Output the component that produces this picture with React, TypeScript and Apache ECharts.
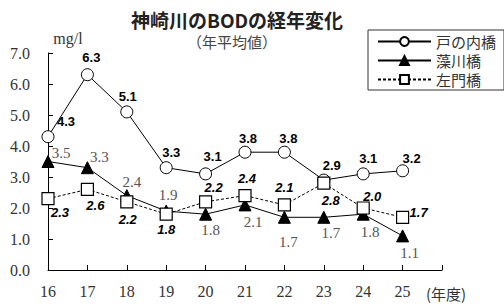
import React, { useEffect, useRef } from "react";
import * as echarts from "echarts";

const years = [16, 17, 18, 19, 20, 21, 22, 23, 24, 25];
const seriesNames = ["戸の内橋", "藻川橋", "左門橋"];
const tonouchi = [4.3, 6.3, 5.1, 3.3, 3.1, 3.8, 3.8, 2.9, 3.1, 3.2];
const mokawa = [3.5, 3.3, 2.4, 1.9, 1.8, 2.1, 1.7, 1.7, 1.8, 1.1];
const samon = [2.3, 2.6, 2.2, 1.8, 2.2, 2.4, 2.1, 2.8, 2.0, 1.7];

// label offsets (pixels) relative to each marker
const tonouchiOffsets = [[18, -15], [4, -17], [1, -15], [5, -15], [7, -17], [3, -14], [4, -14], [8, -15], [5, -15], [9, -12]];
const mokawaOffsets = [[13, -9], [12, -11], [5, -14], [2, -16], [5, 16], [8, 17], [4, 25], [7, 16], [7, 18], [7, 17]];
const samonOffsets = [[12, 14], [8, 16], [1, 18], [0, 15], [8, -14], [2, -17], [0, -17], [7, 17], [9, -12], [16, -5]];

const SERIF = "Liberation Serif, DejaVu Serif, serif";
const SANS = "Liberation Sans, Arial, sans-serif";
const JP = "Noto Sans CJK JP, Noto Sans, sans-serif";

function buildData(vals: number[], offs: number[][]) {
  return vals.map((v, i) => ({
    value: [years[i], v],
    label: { offset: offs[i] },
  }));
}

export default function App() {
  const ref = useRef<HTMLDivElement>(null);
  useEffect(() => {
    if (!ref.current) return;
    const chart = echarts.init(ref.current, null, { renderer: "svg" });
    const fmt = (p: any) => Number(p.value[1]).toFixed(1);
    chart.setOption({
      animation: false,
      backgroundColor: "#fff",
      grid: { left: 48, right: 62, top: 53, bottom: 35 },
      xAxis: {
        type: "value",
        min: 16,
        max: 26,
        interval: 1,
        axisLine: { lineStyle: { color: "#000", width: 1 } },
        axisTick: { show: true, inside: true, length: 5, lineStyle: { color: "#000" } },
        splitLine: { show: false },
        axisLabel: {
          margin: 13,
          color: "#333",
          fontFamily: SERIF,
          fontSize: 16,
          formatter: (v: number) => (v >= 26 ? "" : String(v)),
        },
      },
      yAxis: {
        type: "value",
        min: 0,
        max: 7,
        interval: 1,
        axisLine: { show: true, lineStyle: { color: "#000", width: 1 } },
        axisTick: { show: true, inside: true, length: 5, lineStyle: { color: "#000" } },
        splitLine: { show: false },
        axisLabel: {
          margin: 18,
          color: "#333",
          fontFamily: SERIF,
          fontSize: 16,
          formatter: (v: number) => v.toFixed(1),
        },
      },
      legend: {
        orient: "vertical",
        left: 368,
        top: 30,
        data: seriesNames,
        itemWidth: 53,
        itemHeight: 11,
        itemGap: 4,
        padding: [4, 8, 3, 9],
        borderColor: "#333",
        borderWidth: 1,
        textStyle: { fontFamily: JP, fontSize: 15, color: "#333" },
      },
      graphic: [
        {
          type: "text",
          x: 237,
          y: 19,
          style: {
            text: "神崎川のBODの経年変化",
            font: `bold 19px ${JP}`,
            fill: "#222",
            textAlign: "center",
            textVerticalAlign: "middle",
          },
        },
        {
          type: "text",
          x: 232,
          y: 41,
          style: {
            text: "（年平均値）",
            font: `15px ${JP}`,
            fill: "#444",
            textAlign: "center",
            textVerticalAlign: "middle",
          },
        },
        {
          type: "text",
          x: 68,
          y: 38,
          style: {
            text: "mg/l",
            font: `16px ${SERIF}`,
            fill: "#333",
            textAlign: "center",
            textVerticalAlign: "middle",
          },
        },
        {
          type: "text",
          x: 446,
          y: 293,
          style: {
            text: "(年度)",
            font: `15px ${JP}`,
            fill: "#333",
            textAlign: "center",
            textVerticalAlign: "middle",
          },
        },
      ],
      series: [
        {
          name: seriesNames[0],
          type: "line",
          data: buildData(tonouchi, tonouchiOffsets),
          symbol: "circle",
          symbolSize: 12,
          lineStyle: { color: "#000", width: 1 },
          itemStyle: { color: "#fff", borderColor: "#000", borderWidth: 1 },
          label: {
            show: true,
            position: "inside",
            formatter: fmt,
            color: "#000",
            fontFamily: SANS,
            fontWeight: "bold",
            fontSize: 13,
          },
        },
        {
          name: seriesNames[1],
          type: "line",
          data: buildData(mokawa, mokawaOffsets),
          symbol: "triangle",
          symbolSize: 12,
          lineStyle: { color: "#000", width: 1 },
          itemStyle: { color: "#000", borderColor: "#000", borderWidth: 1 },
          label: {
            show: true,
            position: "inside",
            formatter: fmt,
            color: "#555",
            fontFamily: SERIF,
            fontSize: 15,
          },
        },
        {
          name: seriesNames[2],
          type: "line",
          data: buildData(samon, samonOffsets),
          symbol: "rect",
          symbolSize: 12,
          lineStyle: { color: "#000", width: 1, type: [3, 2] },
          itemStyle: { color: "#fff", borderColor: "#000", borderWidth: 1.2 },
          label: {
            show: true,
            position: "inside",
            formatter: fmt,
            color: "#000",
            fontFamily: SANS,
            fontWeight: "bold",
            fontStyle: "italic",
            fontSize: 13,
          },
        },
      ],
    });
    return () => chart.dispose();
  }, []);
  return (
    <div
      ref={ref}
      style={{ position: "absolute", left: 0, top: 0, width: 504, height: 305, background: "#fff" }}
    />
  );
}
